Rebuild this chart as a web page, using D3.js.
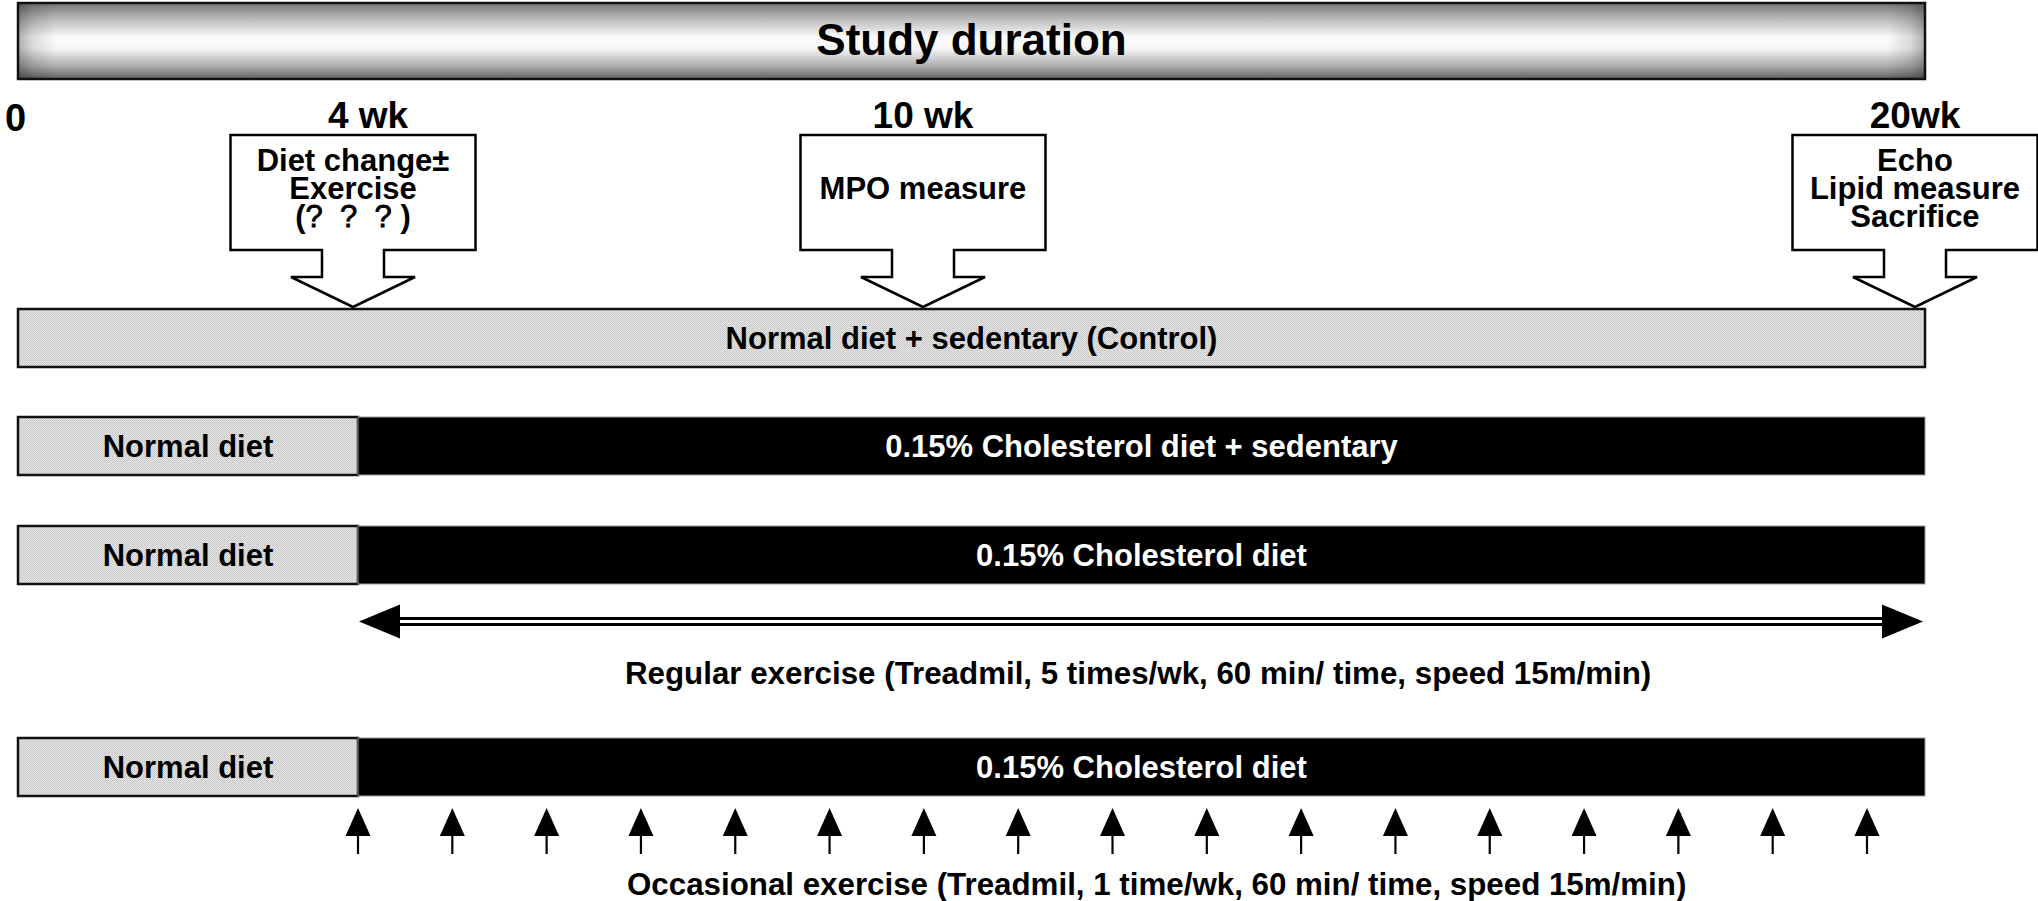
<!DOCTYPE html>
<html>
<head>
<meta charset="utf-8">
<script src="https://cdn.jsdelivr.net/npm/d3@7"></script>
<style>
  html, body { margin: 0; padding: 0; background: #ffffff; }
  svg { display: block; }
  text { font-family: "Liberation Sans", Arial, Helvetica, sans-serif; font-weight: bold; fill: #000; }
</style>
</head>
<body>
<div id="chart"></div>
<script>
// ---------------- data ----------------
const titleText = "Study duration";
const timepointLabels = ["0", "4 wk", "10 wk", "20wk"];
const timepointWeeks = [0, 4, 10, 20];

const calloutWeeks = [4, 10, 20];
const calloutLines = [
  ["Diet change\u00B1", "Exercise", "(?  ?  ? )"],
  ["MPO measure"],
  ["Echo", "Lipid measure", "Sacrifice"]
];

// each group row: segments [fromWeek, toWeek, label, kind]
const groupSegments = [
  [[0, 20, "Normal diet + sedentary (Control)", "normal"]],
  [[0, 4, "Normal diet", "normal"], [4, 20, "0.15% Cholesterol diet + sedentary", "chol"]],
  [[0, 4, "Normal diet", "normal"], [4, 20, "0.15% Cholesterol diet", "chol"]],
  [[0, 4, "Normal diet", "normal"], [4, 20, "0.15% Cholesterol diet", "chol"]]
];

const regularExercise = { fromWeek: 4, toWeek: 20,
  label: "Regular exercise (Treadmil, 5 times/wk, 60 min/ time, speed 15m/min)" };
const occasionalWeeks = [4, 5, 6, 7, 8, 9, 10, 11, 12, 13, 14, 15, 16, 17, 18, 19, 20];
const occasionalLabel = "Occasional exercise (Treadmil, 1 time/wk, 60 min/ time, speed 15m/min)";

// ---------------- layout ----------------
const W = 2038, H = 901;
const svg = d3.select("#chart").append("svg").attr("width", W).attr("height", H);

// schematic timeline scale (not drawn to scale in the original)
const xTime = d3.scaleLinear().domain([0, 4, 10, 20]).range([18, 358, 923, 1925]);
// weekly exercise sessions
const xSession = d3.scaleLinear().domain([4, 20]).range([358, 1867]);

const rowY = d3.scaleOrdinal().domain(d3.range(groupSegments.length)).range([309, 417, 526, 738]);
const barH = 58;

const defs = svg.append("defs");
// metallic top bar gradient
const gV = defs.append("linearGradient").attr("id", "metalV").attr("x1", 0).attr("y1", 0).attr("x2", 0).attr("y2", 1);
[[0, "#767676"], [0.2, "#b8b8b8"], [0.45, "#fbfbfb"], [0.6, "#f6f6f6"], [0.84, "#a9a9a9"], [1, "#606060"]]
  .forEach(([o, c]) => gV.append("stop").attr("offset", o).attr("stop-color", c));
const gH = defs.append("linearGradient").attr("id", "metalH").attr("x1", 0).attr("y1", 0).attr("x2", 1).attr("y2", 0);
[[0, 0.3], [0.008, 0.12], [0.02, 0], [0.98, 0], [0.992, 0.12], [1, 0.3]]
  .forEach(([o, a]) => gH.append("stop").attr("offset", o).attr("stop-color", "#000").attr("stop-opacity", a));
// dotted grey fill
const pat = defs.append("pattern").attr("id", "dots").attr("width", 2).attr("height", 2).attr("patternUnits", "userSpaceOnUse");
pat.append("rect").attr("width", 2).attr("height", 2).attr("fill", "#e4e4e4");
pat.append("rect").attr("width", 1).attr("height", 1).attr("fill", "#c6c6c6");
pat.append("rect").attr("x", 1).attr("y", 1).attr("width", 1).attr("height", 1).attr("fill", "#cfcfcf");

// ---- title bar ----
const x0 = xTime(0), x20 = xTime(20);
svg.append("rect").attr("x", x0).attr("y", 3).attr("width", x20 - x0).attr("height", 76)
  .attr("fill", "url(#metalV)");
svg.append("rect").attr("x", x0).attr("y", 3).attr("width", x20 - x0).attr("height", 76)
  .attr("fill", "url(#metalH)").attr("stroke", "#111").attr("stroke-width", 2.5);
svg.append("text").attr("x", (x0 + x20) / 2).attr("y", 55).attr("text-anchor", "middle")
  .style("font-size", "44px").text(titleText);

// ---- timepoint labels ----
svg.selectAll("text.tp").data(timepointLabels).join("text").attr("class", "tp")
  .attr("x", (d, i) => timepointWeeks[i] === 0 ? 5 : Math.min(xTime(timepointWeeks[i]), x20 - 10) + (timepointWeeks[i] === 4 ? 10 : 0))
  .attr("y", (d, i) => timepointWeeks[i] === 0 ? 131 : 128)
  .attr("text-anchor", (d, i) => timepointWeeks[i] === 0 ? "start" : "middle")
  .style("font-size", (d, i) => timepointWeeks[i] === 0 ? "38px" : "37px").text(d => d);

// ---- callouts ----
const boxW = 245, boxTop = 135, boxBot = 250, stemHalf = 31, headHalf = 62, headY = 277, tipY = 307;
calloutWeeks.forEach((w, i) => {
  const cx = Math.min(xTime(w) - (w === 4 ? 5 : 0), x20 - 10);
  const bx0 = cx - boxW / 2, bx1 = cx + boxW / 2;
  const p = d3.path();
  p.moveTo(bx0, boxTop); p.lineTo(bx1, boxTop); p.lineTo(bx1, boxBot);
  p.lineTo(cx + stemHalf, boxBot); p.lineTo(cx + stemHalf, headY); p.lineTo(cx + headHalf, headY);
  p.lineTo(cx, tipY); p.lineTo(cx - headHalf, headY); p.lineTo(cx - stemHalf, headY);
  p.lineTo(cx - stemHalf, boxBot); p.lineTo(bx0, boxBot); p.closePath();
  svg.append("path").attr("d", p.toString()).attr("fill", "#fff").attr("stroke", "#000")
    .attr("stroke-width", 2.5).attr("stroke-linejoin", "miter");
  const lines = calloutLines[i];
  lines.forEach((t, j) => {
    const tx = svg.append("text").attr("x", cx).attr("y", 199 + (j - (lines.length - 1) / 2) * 28)
      .attr("text-anchor", "middle").style("font-size", "31px").attr("xml:space", "preserve")
      .style("white-space", "pre");
    if (t.indexOf("?") >= 0) {
      t.split(/(\?)/).forEach(part => {
        if (!part) return;
        tx.append("tspan").style("font-weight", part === "?" ? "normal" : "bold")
          .style("stroke", part === "?" ? "#000" : "none").style("stroke-width", part === "?" ? 0.8 : 0)
          .text(part);
      });
    } else tx.text(t);
  });
});

// ---- group bars ----
groupSegments.forEach((segs, r) => {
  const y = rowY(r);
  segs.forEach(([a, b, label, kind]) => {
    const xa = xTime(a), xb = xTime(b);
    svg.append("rect").attr("x", xa).attr("y", y).attr("width", xb - xa).attr("height", barH)
      .attr("fill", kind === "normal" ? "url(#dots)" : "#000")
      .attr("stroke", kind === "normal" ? "#111" : "#9a9a9a")
      .attr("stroke-width", kind === "normal" ? 2.5 : 1);
    svg.append("text").attr("x", (xa + xb) / 2).attr("y", y + barH / 2 + 11)
      .attr("text-anchor", "middle").style("font-size", "31px")
      .style("fill", kind === "normal" ? "#000" : "#fff").text(label);
  });
});

// ---- regular exercise double arrow ----
const ay = 621.5, headLen = 41, headH = 17;
const ra = xSession(regularExercise.fromWeek) + 1, rb = xTime(regularExercise.toWeek) - 2;
svg.append("line").attr("x1", ra + headLen - 2).attr("x2", rb - headLen + 2).attr("y1", ay).attr("y2", ay)
  .attr("stroke", "#000").attr("stroke-width", 9);
svg.append("line").attr("x1", ra + headLen - 2).attr("x2", rb - headLen + 2).attr("y1", ay).attr("y2", ay)
  .attr("stroke", "#fff").attr("stroke-width", 3);
svg.append("path").attr("d", `M${ra},${ay} L${ra + headLen},${ay - headH} L${ra + headLen},${ay + headH} Z`).attr("fill", "#000");
svg.append("path").attr("d", `M${rb},${ay} L${rb - headLen},${ay - headH} L${rb - headLen},${ay + headH} Z`).attr("fill", "#000");
svg.append("text").attr("x", 625).attr("y", 684).attr("text-anchor", "start")
  .style("font-size", "31.3px").text(regularExercise.label);

// ---- occasional exercise arrows ----
const arrows = svg.selectAll("g.up").data(occasionalWeeks).join("g").attr("class", "up")
  .attr("transform", d => `translate(${xSession(d)},0)`);
arrows.append("line").attr("x1", 0).attr("x2", 0).attr("y1", 832).attr("y2", 854)
  .attr("stroke", "#000").attr("stroke-width", 2.2);
arrows.append("path").attr("d", "M0,808 L12.5,836 L-12.5,836 Z").attr("fill", "#000");
svg.append("text").attr("x", 627).attr("y", 895).attr("text-anchor", "start")
  .style("font-size", "31.3px").text(occasionalLabel);
</script>
</body>
</html>
